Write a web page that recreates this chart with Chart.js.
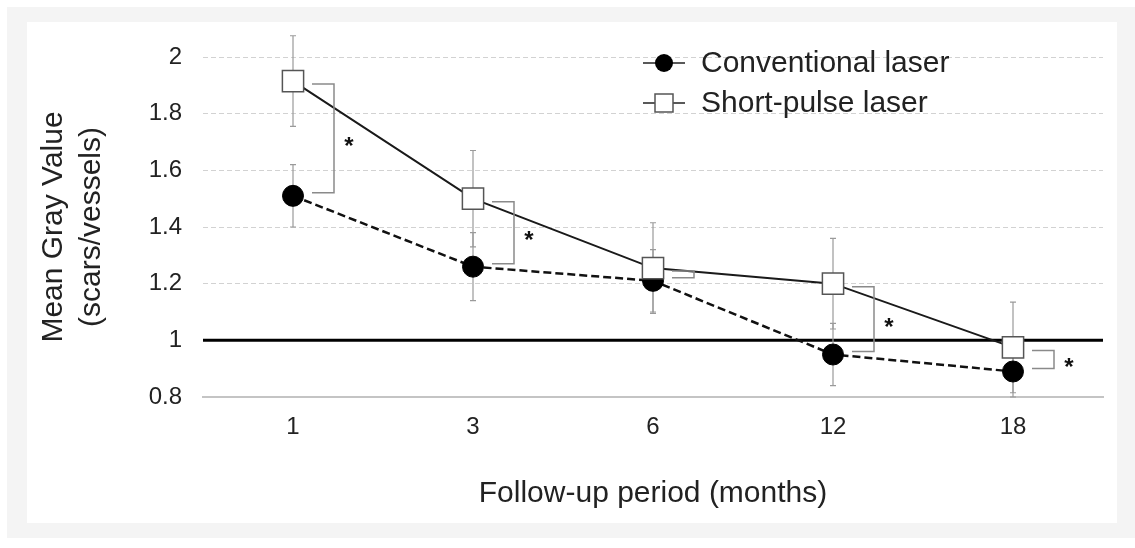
<!DOCTYPE html>
<html>
<head>
<meta charset="utf-8">
<script src="https://cdn.jsdelivr.net/npm/chart.js@4.4.1/dist/chart.umd.min.js"></script>
<style>
  html, body { margin: 0; padding: 0; background: #fff; }
  #frame { position: absolute; left: 7px; top: 7px; width: 1128px; height: 531px; background: #f4f4f4; }
  #panel { position: absolute; left: 27px; top: 22px; width: 1090px; height: 501px; background: #fff; }
  #wrap { position: absolute; left: 0; top: 0; width: 1135px; height: 548px; }
</style>
</head>
<body>
<div id="frame"></div>
<div id="panel"></div>
<div id="wrap"><canvas id="chart"></canvas></div>
<script>
const months = ["1", "3", "6", "12", "18"];
const conventional = [1.51, 1.26, 1.21, 0.95, 0.89];
const conventionalErr = [0.11, 0.12, 0.11, 0.11, 0.09];
const shortPulse = [1.915, 1.5, 1.255, 1.2, 0.975];
const shortPulseErr = [0.16, 0.17, 0.16, 0.16, 0.16];
const significance = ["*", "*", "", "*", "*"];
const refValue = 1;

const FONT = "'Liberation Sans', Arial, sans-serif";
const TEXT = "#222";

// error bars, reference line, brackets and the legend
const extras = {
  id: "extras",
  beforeDatasetsDraw(chart) {
    const { ctx, chartArea, scales: { x, y } } = chart;
    ctx.save();
    // reference line at 1
    ctx.strokeStyle = "#000";
    ctx.lineWidth = 3;
    ctx.beginPath();
    ctx.moveTo(chartArea.left, y.getPixelForValue(refValue));
    ctx.lineTo(chartArea.right, y.getPixelForValue(refValue));
    ctx.stroke();

    ctx.strokeStyle = "#9a9a9a";
    ctx.lineWidth = 1.2;
    const bars = (vals, errs) => {
      vals.forEach((v, i) => {
        const px = x.getPixelForValue(i);
        const top = y.getPixelForValue(v + errs[i]);
        const bot = y.getPixelForValue(v - errs[i]);
        ctx.beginPath();
        ctx.moveTo(px, top); ctx.lineTo(px, bot);
        ctx.moveTo(px - 3, top); ctx.lineTo(px + 3, top);
        ctx.moveTo(px - 3, bot); ctx.lineTo(px + 3, bot);
        ctx.stroke();
      });
    };
    bars(conventional, conventionalErr);
    bars(shortPulse, shortPulseErr);
    ctx.restore();
  },
  afterDatasetsDraw(chart) {
    const { ctx, scales: { x, y } } = chart;
    ctx.save();
    // significance brackets
    ctx.strokeStyle = "#8a8a8a";
    ctx.lineWidth = 1.5;
    months.forEach((m, i) => {
      const px = x.getPixelForValue(i);
      const top = y.getPixelForValue(shortPulse[i]) + 3;
      const bot = y.getPixelForValue(conventional[i]) - 3;
      ctx.beginPath();
      ctx.moveTo(px + 19, top);
      ctx.lineTo(px + 41, top);
      ctx.lineTo(px + 41, bot);
      ctx.lineTo(px + 19, bot);
      ctx.stroke();
      if (significance[i]) {
        ctx.fillStyle = "#111";
        ctx.font = "bold 24px " + FONT;
        ctx.textAlign = "center";
        ctx.textBaseline = "middle";
        ctx.fillText(significance[i], px + 56, (top + bot) / 2 + 9);
      }
    });

    // legend
    const items = chart.data.datasets.slice().reverse();
    items.forEach((ds, k) => {
      const ly = 63 + k * 40;
      ctx.strokeStyle = "#222";
      ctx.lineWidth = 1.5;
      ctx.setLineDash([]);
      ctx.beginPath();
      ctx.moveTo(643, ly); ctx.lineTo(685, ly);
      ctx.stroke();
      ctx.fillStyle = ds.pointBackgroundColor;
      ctx.strokeStyle = ds.pointBorderColor;
      ctx.lineWidth = 1.5;
      if (ds.pointStyle === "rect") {
        ctx.fillRect(655, ly - 9, 18, 18);
        ctx.strokeRect(655, ly - 9, 18, 18);
      } else {
        ctx.beginPath();
        ctx.arc(664, ly, 9, 0, Math.PI * 2);
        ctx.fill();
      }
      ctx.fillStyle = TEXT;
      ctx.font = "30px " + FONT;
      ctx.textAlign = "left";
      ctx.textBaseline = "middle";
      ctx.fillText(ds.label, 701, ly + 1);
    });
    ctx.restore();
  }
};

new Chart(document.getElementById("chart"), {
  type: "line",
  data: {
    labels: months,
    datasets: [
      {
        label: "Short-pulse laser",
        data: shortPulse,
        order: 0,
        borderColor: "#1a1a1a",
        borderWidth: 2,
        pointStyle: "rect",
        pointRadius: 15,
        pointBackgroundColor: "#fff",
        pointBorderColor: "#555",
        pointBorderWidth: 1.5,
        tension: 0
      },
      {
        label: "Conventional laser",
        data: conventional,
        order: 1,
        borderColor: "#111",
        borderWidth: 2.5,
        borderDash: [8, 4],
        pointStyle: "circle",
        pointRadius: 10.5,
        pointBackgroundColor: "#000",
        pointBorderColor: "#000",
        pointBorderWidth: 1,
        tension: 0
      }
    ]
  },
  options: {
    responsive: true,
    maintainAspectRatio: false,
    animation: false,
    events: [],
    layout: { padding: { left: 0, top: 57, right: 32, bottom: 0 } },
    plugins: {
      legend: { display: false },
      tooltip: { enabled: false }
    },
    scales: {
      x: {
        offset: true,
        grid: { display: false, drawTicks: false },
        border: { display: true, color: "#c4c4c4", width: 2 },
        ticks: { color: TEXT, font: { family: FONT, size: 24 }, padding: 16 },
        title: {
          display: true,
          text: "Follow-up period (months)",
          color: TEXT,
          font: { family: FONT, size: 30 },
          padding: { top: 0, bottom: 36 }
        },
        afterFit(scale) { scale.height = 151; }
      },
      y: {
        min: 0.8,
        max: 2,
        grid: {
          drawTicks: false,
          lineWidth: 1,
          color(c) {
            const v = c.tick.value;
            return (Math.abs(v - 1) < 1e-6 || Math.abs(v - 0.8) < 1e-6) ? "rgba(0,0,0,0)" : "#d2d2d2";
          }
        },
        border: { display: false, dash: [5, 3] },
        ticks: {
          stepSize: 0.2,
          color: TEXT,
          font: { family: FONT, size: 24 },
          padding: 21,
          callback: (v) => String(Number(v.toFixed(1)))
        },
        title: {
          display: true,
          text: ["Mean Gray Value", "(scars/vessels)"],
          color: TEXT,
          font: { family: FONT, size: 30, lineHeight: 1.27 },
          padding: { top: 35, bottom: 0 }
        },
        afterFit(scale) { scale.width = 203; }
      }
    }
  },
  plugins: [extras]
});
</script>
</body>
</html>
